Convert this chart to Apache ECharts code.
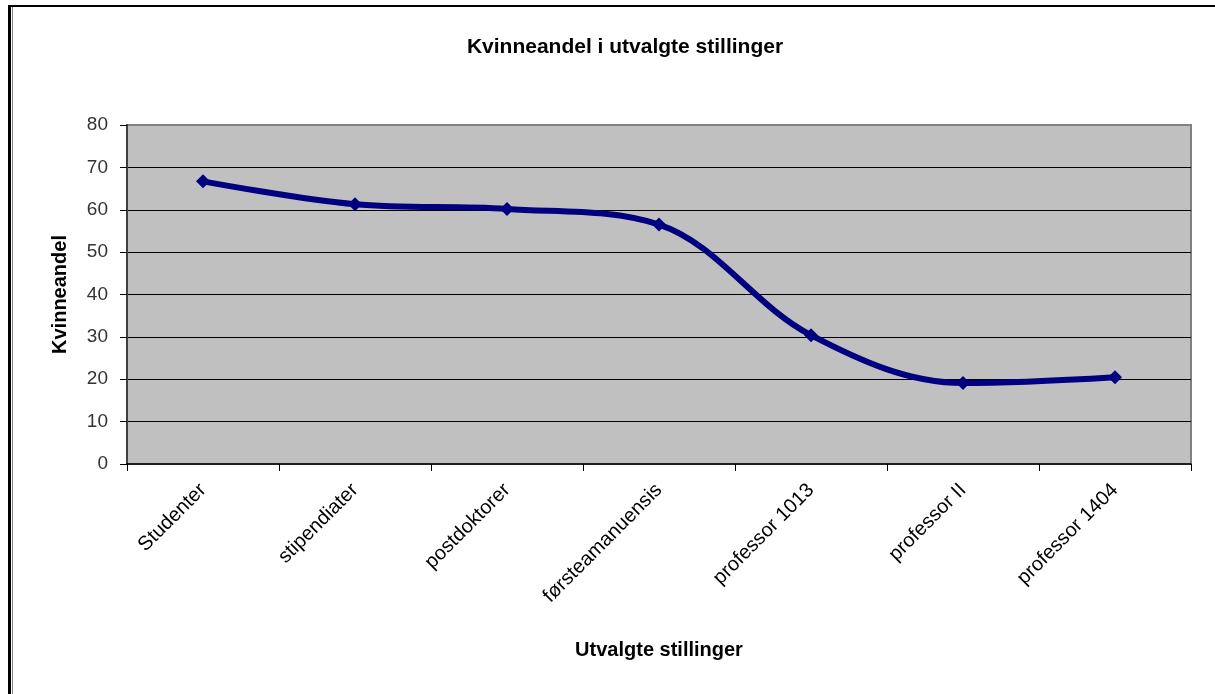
<!DOCTYPE html>
<html>
<head>
<meta charset="utf-8">
<script src="https://cdn.jsdelivr.net/npm/echarts@6/dist/echarts.min.js"></script>
<style>
  html, body { margin: 0; padding: 0; background: #fff; }
  #chart { width: 1215px; height: 694px; }
</style>
</head>
<body>
<div id="chart"></div>
<script>
var stillinger = ['Studenter', 'stipendiater', 'postdoktorer', 'førsteamanuensis',
  'professor 1013', 'professor II', 'professor 1404'];
var kvinneandel = [66.7, 61.3, 60.2, 56.5, 30.4, 19.1, 20.5];

var chartDom = document.getElementById('chart');
var myChart = echarts.init(chartDom);
var font = 'Liberation Sans, Arial, sans-serif';

var option = {
  animation: false,
  backgroundColor: '#fff',
  title: {
    text: 'Kvinneandel i utvalgte stillinger',
    left: 620,
    textAlign: 'center',
    top: 32,
    textStyle: { fontFamily: font, fontSize: 21, fontWeight: 'bold', color: '#000' }
  },
  graphic: [
    // outer frame like the original window
    { type: 'rect', shape: { x: 8, y: 5, width: 3, height: 700 }, style: { fill: '#000' } },
    { type: 'rect', shape: { x: 12, y: 7, width: 1, height: 700 }, style: { fill: '#808080' } },
    { type: 'rect', shape: { x: 8, y: 5, width: 1215, height: 2 }, style: { fill: '#000' } }
  ],
  grid: {
    left: 127,
    right: 24,
    top: 125,
    bottom: 230,
    show: true,
    backgroundColor: '#c0c0c0',
    borderColor: '#808080',
    borderWidth: 2
  },
  xAxis: {
    type: 'category',
    data: stillinger,
    boundaryGap: true,
    name: 'Utvalgte stillinger',
    nameLocation: 'middle',
    nameGap: 176,
    nameTextStyle: { fontFamily: font, fontSize: 20, fontWeight: 'bold', color: '#000' },
    axisLine: { lineStyle: { color: '#000', width: 1.5 } },
    axisTick: { show: true, length: 7, alignWithLabel: false, lineStyle: { color: '#000' } },
    axisLabel: {
      rotate: 45,
      margin: 23,
      interval: 0,
      fontFamily: font,
      fontSize: 20,
      color: '#000'
    },
    splitLine: { show: false }
  },
  yAxis: {
    type: 'value',
    min: 0,
    max: 80,
    interval: 10,
    name: 'Kvinneandel',
    nameLocation: 'middle',
    nameGap: 57,
    nameTextStyle: { fontFamily: font, fontSize: 20, fontWeight: 'bold', color: '#000' },
    axisLine: { show: true, lineStyle: { color: '#404040', width: 2 } },
    axisTick: { show: true, length: 7, lineStyle: { color: '#000' } },
    axisLabel: { fontFamily: font, fontSize: 19, color: '#333', margin: 19 },
    splitLine: {
      show: true,
      showMinLine: false,
      showMaxLine: false,
      lineStyle: { color: '#000', width: 1 }
    }
  },
  series: [{
    name: 'Kvinneandel',
    type: 'line',
    data: kvinneandel,
    smooth: 0.35,
    symbol: 'diamond',
    symbolSize: 14,
    itemStyle: { color: '#000080' },
    lineStyle: { color: '#000080', width: 6 }
  }]
};

option && myChart.setOption(option);
</script>
</body>
</html>
